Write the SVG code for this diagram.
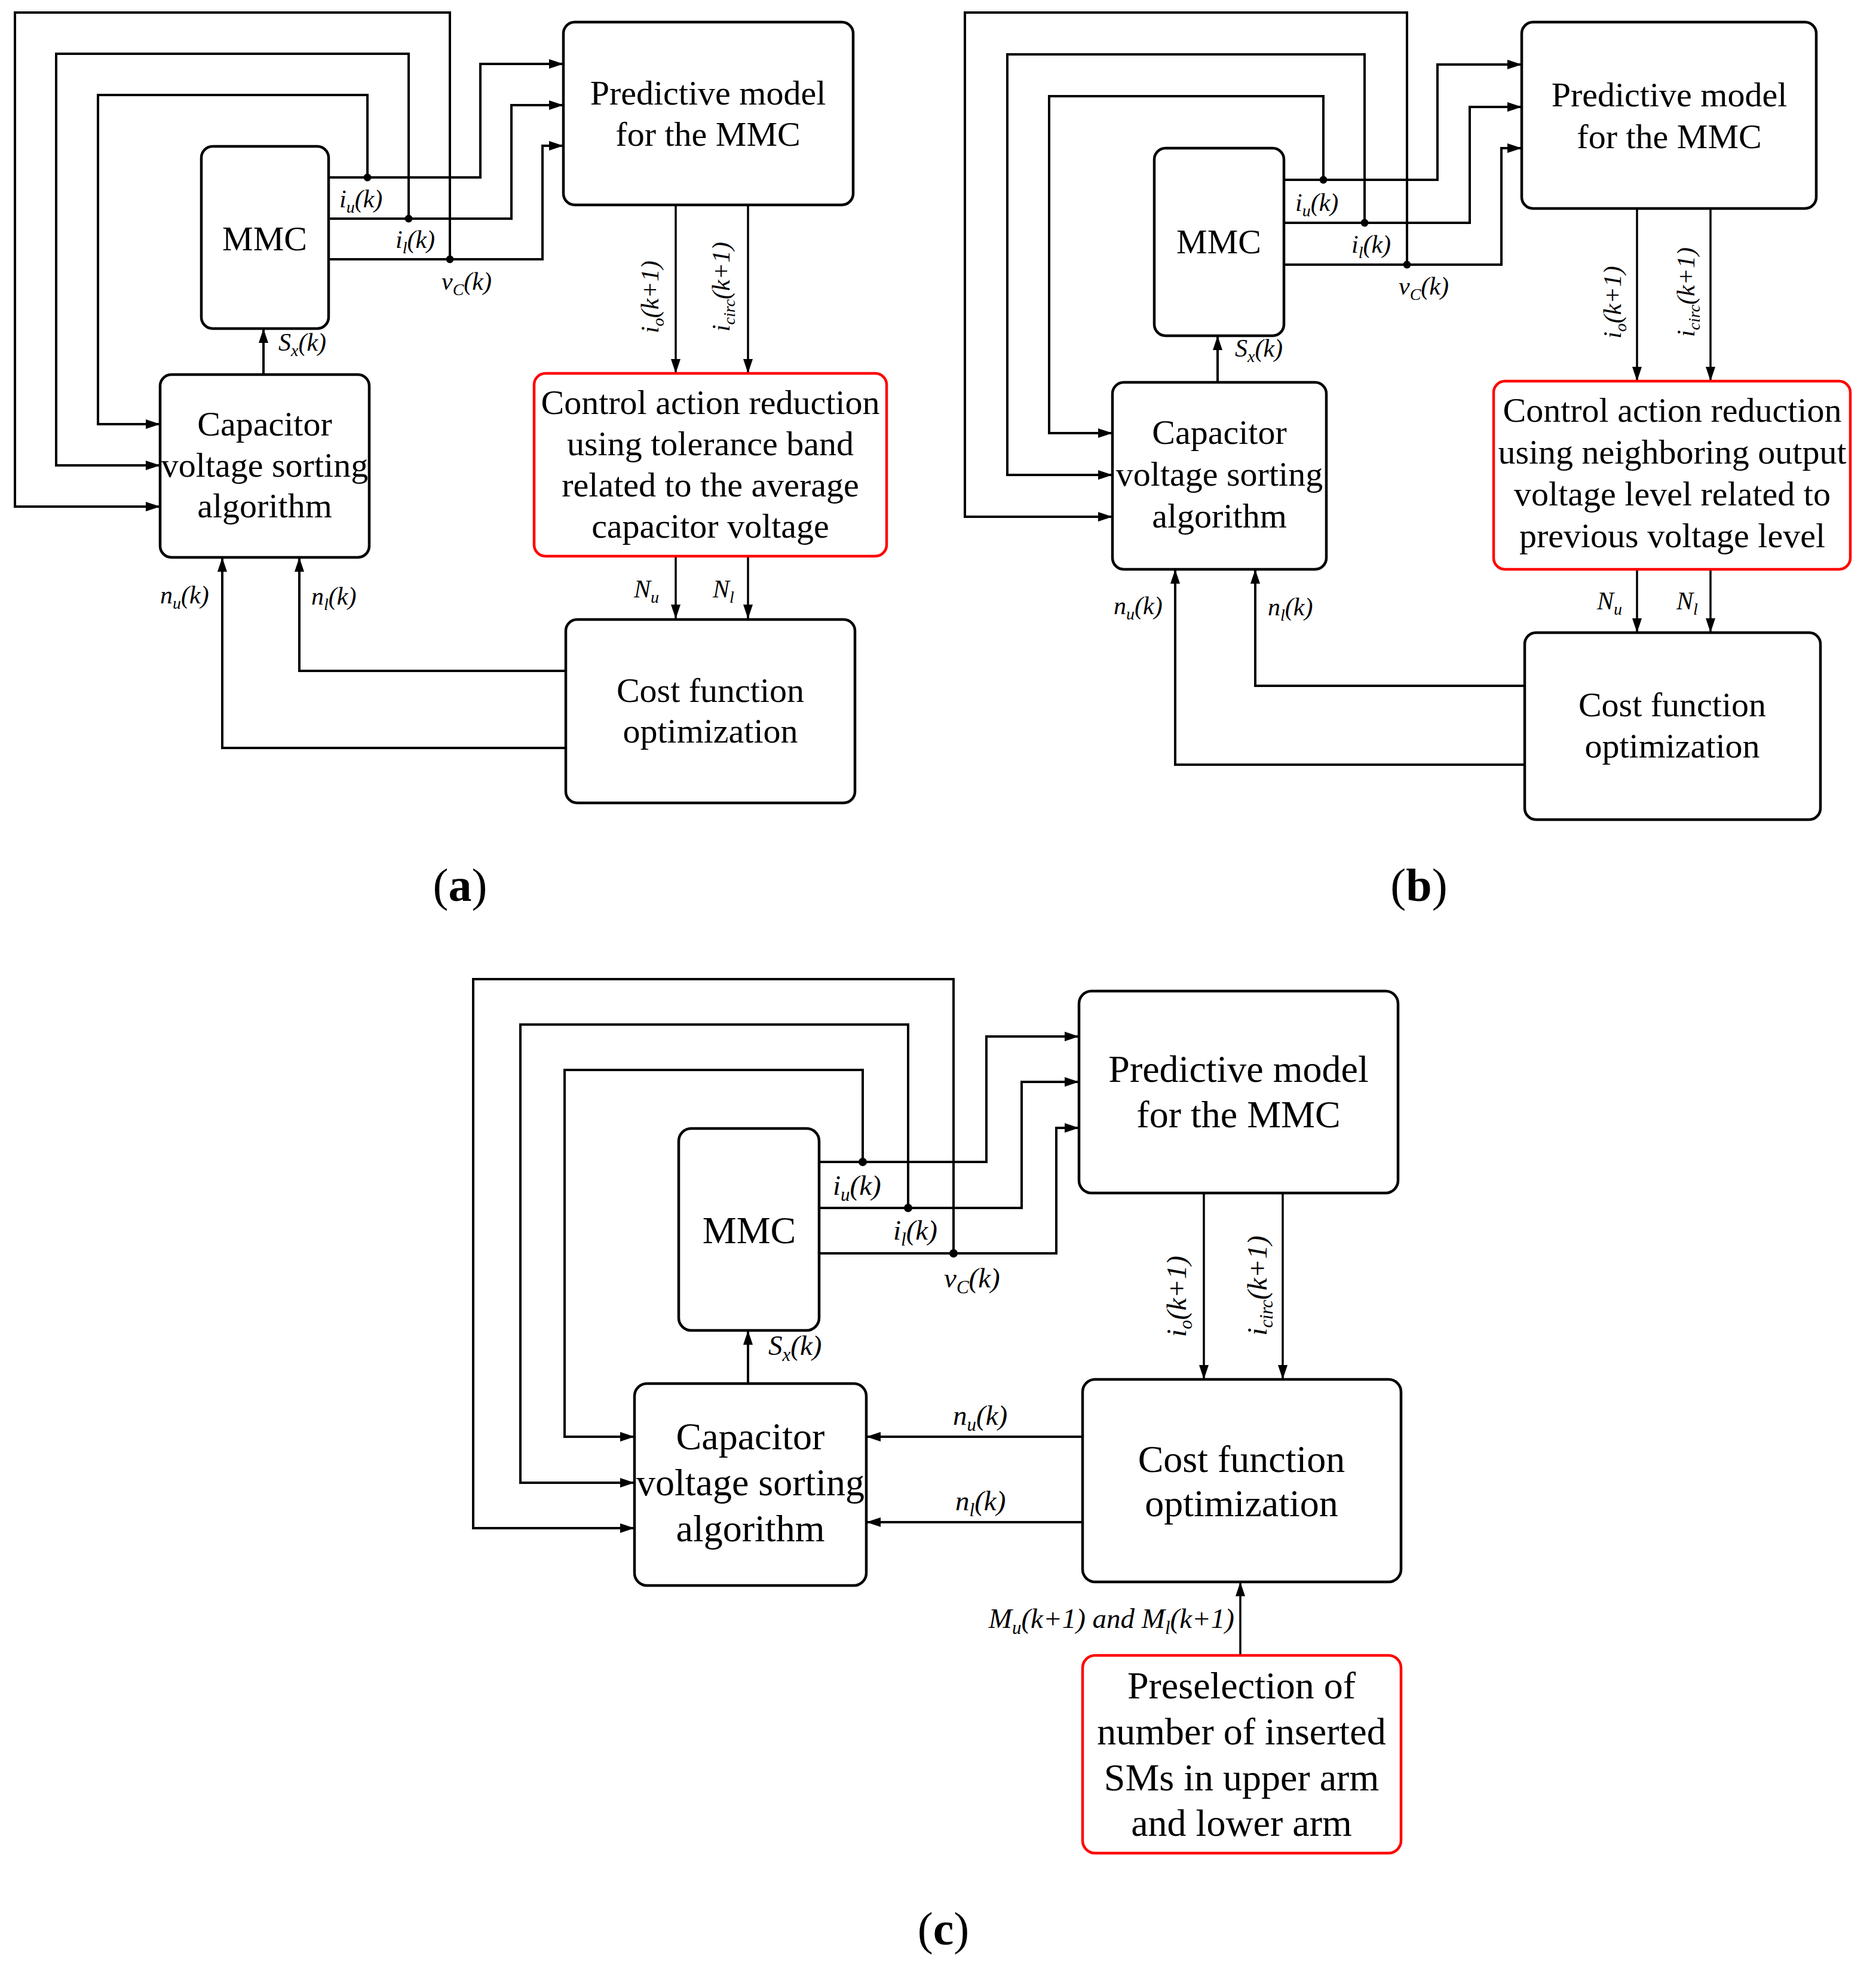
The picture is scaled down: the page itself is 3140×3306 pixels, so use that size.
<svg xmlns="http://www.w3.org/2000/svg" width="3140" height="3306" viewBox="0 0 3140 3306">
<style>
.box{fill:#fff;stroke:#000;stroke-width:4.5}
.rbox{fill:#fff;stroke:#f00;stroke-width:4.5}
.ar{fill:none;stroke:#000;stroke-width:4;marker-end:url(#ah)}
.ar2{fill:none;stroke:#000;stroke-width:3.5;marker-end:url(#ah)}
.dot{fill:#000}
.t{font-family:"Liberation Serif","Times New Roman",serif;font-size:58px;text-anchor:middle;fill:#000}
.tc{font-family:"Liberation Serif","Times New Roman",serif;font-size:64px;text-anchor:middle;fill:#000}
.lb{font-family:"Liberation Serif","Times New Roman",serif;font-style:italic;font-size:42px;fill:#000}
.lbc{font-family:"Liberation Serif","Times New Roman",serif;font-style:italic;font-size:47px;fill:#000}
.sb{font-size:28px}
.sbc{font-size:31px}
.cap{font-family:"Liberation Serif","Times New Roman",serif;font-size:78px;text-anchor:middle;fill:#000}
</style>
<defs>
<marker id="ah" viewBox="0 0 24 16" refX="24" refY="8" markerWidth="24" markerHeight="16" markerUnits="userSpaceOnUse" orient="auto">
<path d="M0,0 L24,8 L0,16 Z" fill="#000"/>
</marker>
</defs>
<rect width="3140" height="3306" fill="#fff"/>

<!-- ============ Panel (a) ============ -->
<g id="a-connectors">
<path class="ar" d="M753,434 V21 H25 V848 H268"/>
<path class="ar" d="M684,366 V90 H94 V779 H268"/>
<path class="ar" d="M615,297 V159 H164 V710 H268"/>
<path class="ar" d="M550,297 H804 V107 H943"/>
<path class="ar" d="M550,366 H856 V176 H943"/>
<path class="ar" d="M550,434 H908 V244 H943"/>
<path class="ar" d="M441,627 V550"/>
<path class="ar2" d="M1131,343 V625"/>
<path class="ar2" d="M1252,343 V625"/>
<path class="ar2" d="M1131,931 V1036"/>
<path class="ar2" d="M1252,931 V1036"/>
<path class="ar" d="M947,1123 H501 V933"/>
<path class="ar" d="M947,1252 H372 V933"/>
<circle class="dot" cx="615" cy="297" r="6.5"/>
<circle class="dot" cx="684" cy="366" r="6.5"/>
<circle class="dot" cx="753" cy="434" r="6.5"/>
<text class="lb" x="568" y="347">i<tspan class="sb" dy="9">u</tspan><tspan dy="-9">(k)</tspan></text>
<text class="lb" x="662" y="415">i<tspan class="sb" dy="9">l</tspan><tspan dy="-9">(k)</tspan></text>
<text class="lb" x="739" y="485">v<tspan class="sb" dy="9">C</tspan><tspan dy="-9">(k)</tspan></text>
<text class="lb" x="466" y="587">S<tspan class="sb" dy="9">x</tspan><tspan dy="-9">(k)</tspan></text>
<text class="lb" x="268" y="1010">n<tspan class="sb" dy="9">u</tspan><tspan dy="-9">(k)</tspan></text>
<text class="lb" x="521" y="1012">n<tspan class="sb" dy="9">l</tspan><tspan dy="-9">(k)</tspan></text>
<text class="lb" x="1061" y="1000">N<tspan class="sb" dy="9">u</tspan></text>
<text class="lb" x="1193" y="1000">N<tspan class="sb" dy="9">l</tspan></text>
<text class="lb" text-anchor="middle" transform="translate(1102,497) rotate(-90)">i<tspan class="sb" dy="9">o</tspan><tspan dy="-9">(k+1)</tspan></text>
<text class="lb" text-anchor="middle" transform="translate(1221,480) rotate(-90)">i<tspan class="sb" dy="9">circ</tspan><tspan dy="-9">(k+1)</tspan></text>
</g>
<g id="a-mmc"><rect class="box" x="337" y="245" width="213" height="305" rx="19"/><text class="t" x="443" y="419">MMC</text></g>
<g id="a-pred"><rect class="box" x="943" y="37" width="485" height="306" rx="19"/><text class="t" x="1185" y="175">Predictive model</text><text class="t" x="1185" y="244">for the MMC</text></g>
<g id="a-cap"><rect class="box" x="268" y="627" width="350" height="306" rx="19"/><text class="t" x="443" y="729">Capacitor</text><text class="t" x="443" y="798">voltage sorting</text><text class="t" x="443" y="866">algorithm</text></g>
<g id="a-red"><rect class="rbox" x="894" y="625" width="590" height="306" rx="19"/><text class="t" x="1189" y="693">Control action reduction</text><text class="t" x="1189" y="762">using tolerance band</text><text class="t" x="1189" y="831">related to the average</text><text class="t" x="1189" y="900">capacitor voltage</text></g>
<g id="a-cost"><rect class="box" x="947" y="1037" width="484" height="307" rx="19"/><text class="t" x="1189" y="1175">Cost function</text><text class="t" x="1189" y="1243">optimization</text></g>
<text class="cap" x="770" y="1508">(<tspan font-weight="bold">a</tspan>)</text>

<!-- ============ Panel (b) ============ -->
<g id="b-connectors">
<path class="ar" d="M2355,443 V21 H1615 V865 H1862"/>
<path class="ar" d="M2284,373 V91 H1686 V795 H1862"/>
<path class="ar" d="M2215,301 V161 H1756 V725 H1862"/>
<path class="ar" d="M2149,301 H2406 V108 H2547"/>
<path class="ar" d="M2149,373 H2460 V179 H2547"/>
<path class="ar" d="M2149,443 H2513 V248 H2547"/>
<path class="ar" d="M2038,640 V562"/>
<path class="ar2" d="M2740,349 V638"/>
<path class="ar2" d="M2863,349 V638"/>
<path class="ar2" d="M2740,953 V1059"/>
<path class="ar2" d="M2863,953 V1059"/>
<path class="ar" d="M2552,1148 H2101 V953"/>
<path class="ar" d="M2552,1280 H1967 V953"/>
<circle class="dot" cx="2215" cy="301" r="6.5"/>
<circle class="dot" cx="2284" cy="373" r="6.5"/>
<circle class="dot" cx="2355" cy="443" r="6.5"/>
<text class="lb" x="2168" y="353">i<tspan class="sb" dy="9">u</tspan><tspan dy="-9">(k)</tspan></text>
<text class="lb" x="2262" y="423">i<tspan class="sb" dy="9">l</tspan><tspan dy="-9">(k)</tspan></text>
<text class="lb" x="2341" y="493">v<tspan class="sb" dy="9">C</tspan><tspan dy="-9">(k)</tspan></text>
<text class="lb" x="2067" y="597">S<tspan class="sb" dy="9">x</tspan><tspan dy="-9">(k)</tspan></text>
<text class="lb" x="1864" y="1028">n<tspan class="sb" dy="9">u</tspan><tspan dy="-9">(k)</tspan></text>
<text class="lb" x="2122" y="1030">n<tspan class="sb" dy="9">l</tspan><tspan dy="-9">(k)</tspan></text>
<text class="lb" x="2673" y="1020">N<tspan class="sb" dy="9">u</tspan></text>
<text class="lb" x="2806" y="1020">N<tspan class="sb" dy="9">l</tspan></text>
<text class="lb" text-anchor="middle" transform="translate(2713,506) rotate(-90)">i<tspan class="sb" dy="9">o</tspan><tspan dy="-9">(k+1)</tspan></text>
<text class="lb" text-anchor="middle" transform="translate(2836,489) rotate(-90)">i<tspan class="sb" dy="9">circ</tspan><tspan dy="-9">(k+1)</tspan></text>
</g>
<g id="b-mmc"><rect class="box" x="1932" y="248" width="217" height="314" rx="19"/><text class="t" x="2040" y="424">MMC</text></g>
<g id="b-pred"><rect class="box" x="2547" y="37" width="493" height="312" rx="19"/><text class="t" x="2794" y="178">Predictive model</text><text class="t" x="2794" y="248">for the MMC</text></g>
<g id="b-cap"><rect class="box" x="1862" y="640" width="358" height="313" rx="19"/><text class="t" x="2041" y="743">Capacitor</text><text class="t" x="2041" y="813">voltage sorting</text><text class="t" x="2041" y="883">algorithm</text></g>
<g id="b-red"><rect class="rbox" x="2500" y="638" width="597" height="315" rx="19"/><text class="t" x="2799" y="706">Control action reduction</text><text class="t" x="2799" y="776">using neighboring output</text><text class="t" x="2799" y="846">voltage level related to</text><text class="t" x="2799" y="916">previous voltage level</text></g>
<g id="b-cost"><rect class="box" x="2552" y="1059" width="495" height="313" rx="19"/><text class="t" x="2799" y="1199">Cost function</text><text class="t" x="2799" y="1268">optimization</text></g>
<text class="cap" x="2375" y="1508">(<tspan font-weight="bold">b</tspan>)</text>

<!-- ============ Panel (c) ============ -->
<g id="c-connectors">
<path class="ar" d="M1596,2098 V1639 H792 V2558 H1062"/>
<path class="ar" d="M1520,2022 V1715 H871 V2482 H1062"/>
<path class="ar" d="M1444,1945 V1791 H945 V2405 H1062"/>
<path class="ar" d="M1371,1945 H1651 V1735 H1806"/>
<path class="ar" d="M1371,2022 H1710 V1811 H1806"/>
<path class="ar" d="M1371,2098 H1768 V1888 H1806"/>
<path class="ar" d="M1252,2315 V2227"/>
<path class="ar2" d="M2015,1997 V2309"/>
<path class="ar2" d="M2147,1997 V2309"/>
<path class="ar" d="M1812,2405 H1450"/>
<path class="ar" d="M1812,2548 H1450"/>
<path class="ar2" d="M2076,2771 V2648"/>
<circle class="dot" cx="1444" cy="1945" r="7"/>
<circle class="dot" cx="1520" cy="2022" r="7"/>
<circle class="dot" cx="1596" cy="2098" r="7"/>
<text class="lbc" x="1394" y="2000">i<tspan class="sbc" dy="10">u</tspan><tspan dy="-10">(k)</tspan></text>
<text class="lbc" x="1495" y="2075">i<tspan class="sbc" dy="10">l</tspan><tspan dy="-10">(k)</tspan></text>
<text class="lbc" x="1580" y="2155">v<tspan class="sbc" dy="10">C</tspan><tspan dy="-10">(k)</tspan></text>
<text class="lbc" x="1286" y="2268">S<tspan class="sbc" dy="10">x</tspan><tspan dy="-10">(k)</tspan></text>
<text class="lbc" x="1595" y="2385">n<tspan class="sbc" dy="10">u</tspan><tspan dy="-10">(k)</tspan></text>
<text class="lbc" x="1599" y="2528">n<tspan class="sbc" dy="10">l</tspan><tspan dy="-10">(k)</tspan></text>
<text class="lbc" text-anchor="end" x="2066" y="2725">M<tspan class="sbc" dy="10">u</tspan><tspan dy="-10">(k+1) and M</tspan><tspan class="sbc" dy="10">l</tspan><tspan dy="-10">(k+1)</tspan></text>
<text class="lbc" text-anchor="middle" transform="translate(1985,2170) rotate(-90)">i<tspan class="sbc" dy="10">o</tspan><tspan dy="-10">(k+1)</tspan></text>
<text class="lbc" text-anchor="middle" transform="translate(2120,2152) rotate(-90)">i<tspan class="sbc" dy="10">circ</tspan><tspan dy="-10">(k+1)</tspan></text>
</g>
<g id="c-mmc"><rect class="box" x="1136" y="1889" width="235" height="338" rx="21"/><text class="tc" x="1254" y="2081">MMC</text></g>
<g id="c-pred"><rect class="box" x="1806" y="1659" width="534" height="338" rx="21"/><text class="tc" x="2073" y="1811">Predictive model</text><text class="tc" x="2073" y="1887">for the MMC</text></g>
<g id="c-cap"><rect class="box" x="1062" y="2316" width="388" height="338" rx="21"/><text class="tc" x="1256" y="2426">Capacitor</text><text class="tc" x="1256" y="2503">voltage sorting</text><text class="tc" x="1256" y="2580">algorithm</text></g>
<g id="c-cost"><rect class="box" x="1812" y="2309" width="533" height="339" rx="21"/><text class="tc" x="2078" y="2464">Cost function</text><text class="tc" x="2078" y="2538">optimization</text></g>
<g id="c-pre"><rect class="rbox" x="1812" y="2771" width="533" height="331" rx="21"/><text class="tc" x="2078" y="2843">Preselection of</text><text class="tc" x="2078" y="2920">number of inserted</text><text class="tc" x="2078" y="2997">SMs in upper arm</text><text class="tc" x="2078" y="3073">and lower arm</text></g>
<text class="cap" x="1579" y="3255">(<tspan font-weight="bold">c</tspan>)</text>
</svg>
